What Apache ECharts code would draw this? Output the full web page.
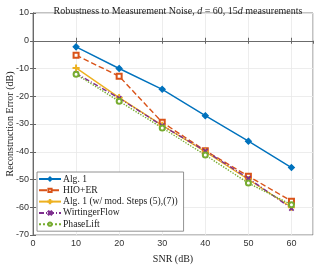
<!DOCTYPE html>
<html><head><meta charset="utf-8">
<script src="https://cdn.jsdelivr.net/npm/echarts@6/dist/echarts.min.js"></script>
<style>html,body{margin:0;padding:0;background:#fff}#c{width:318px;height:266px}</style>
</head><body><div id="c"></div>
<script>
const snr = [10, 20, 30, 40, 50, 60];
const alg1 = [-2.2, -10, -17.5, -27, -36.2, -45.7];
const hioer = [-5.2, -12.8, -29.4, -39.6, -48.8, -57.8];
const alg1mod = [-9.8, -20.5, -30.5, -40, -50, -60];
const wirtinger = [-11.8, -20.7, -30.6, -39.7, -49.6, -60.4];
const phaselift = [-12.1, -21.8, -31.4, -41.2, -51.3, -59.1];
const names = ['Alg. 1', 'HIO+ER', 'Alg. 1 (w/ mod. Steps (5),(7))', 'WirtingerFlow', 'PhaseLift'];

const serif = 'Liberation Serif';
const plus = 'path://M4.3,0L5.7,0L5.7,4.3L10,4.3L10,5.7L5.7,5.7L5.7,10L4.3,10L4.3,5.7L0,5.7L0,4.3L4.3,4.3Z';
const xmark = 'path://M1,0L5,4L9,0L10,1L6,5L10,9L9,10L5,6L1,10L0,9L4,5L0,1Z';
function mk(name, data, color, type, symbol, size) {
  return {
    name, type: 'line', data: snr.map((x, i) => [x, data[i]]),
    symbol, symbolSize: size, showSymbol: true,
    lineStyle: { color, width: 1.4, type },
    itemStyle: { color, borderColor: color, borderWidth: 1.1 },
    emphasis: { disabled: true }
  };
}
const chart = echarts.init(document.getElementById('c'));
const axisCommon = {
  axisLine: { show: true, lineStyle: { color: '#666', width: 0.8 } },
  axisTick: { show: true, inside: true, length: 3, lineStyle: { color: '#666' } },
};
chart.setOption({
  animation: false,
  title: {
    text: '{n|Robustness to Measurement Noise, }{i|d}{n| = 60, 15}{i|d}{n| measurements}',
    left: 173, textAlign: 'center', top: 1,
    textStyle: { fontWeight: 'normal', rich: {
      n: { fontFamily: serif, fontSize: 10, color: '#222', fontWeight: 'normal' },
      i: { fontFamily: serif, fontSize: 10, fontStyle: 'italic', color: '#222', fontWeight: 'normal' }
    } }
  },
  grid: { left: 33, right: 5, top: 13, bottom: 31, containLabel: false, outerBoundsMode: 'none',
    show: true, borderColor: '#666', borderWidth: 0.8 },
  legend: {
    orient: 'vertical', left: 37, top: 172, data: names,
    backgroundColor: '#fff', borderColor: '#777', borderWidth: 0.8,
    padding: [2, 6, 2, 1], itemGap: 1.3, itemWidth: 22, itemHeight: 4,
    textStyle: { fontFamily: serif, fontSize: 9.6, color: '#222', lineHeight: 9, padding: [0, 0, 0, -3] }
  },
  xAxis: [{
    type: 'value', min: 0, max: 65, interval: 10,
    name: 'SNR (dB)', nameLocation: 'middle', nameGap: 19, nameMoveOverlap: false,
    nameTextStyle: { fontFamily: serif, fontSize: 10, color: '#222' },
    axisLabel: { fontFamily: 'Liberation Sans', fontSize: 9, color: '#333', margin: 4, showMaxLabel: false },
    splitLine: { show: true, lineStyle: { color: '#e8e8e8', width: 0.8 } },
    ...axisCommon
  }, {
    type: 'value', min: 0, max: 65, interval: 10, position: 'top',
    axisLabel: { show: false }, splitLine: { show: false }, ...axisCommon
  }],
  yAxis: [{
    type: 'value', min: -70, max: 10, interval: 10,
    name: 'Reconstruction Error (dB)', nameLocation: 'middle', nameGap: 18, nameMoveOverlap: false,
    nameTextStyle: { fontFamily: serif, fontSize: 10, color: '#222' },
    axisLabel: { fontFamily: 'Liberation Sans', fontSize: 9, color: '#333', margin: 4 },
    splitLine: { show: true, lineStyle: { color: '#e8e8e8', width: 0.8 } },
    ...axisCommon
  }, {
    type: 'value', min: -70, max: 10, interval: 10, position: 'right',
    axisLabel: { show: false }, splitLine: { show: false }, ...axisCommon
  }],
  series: [
    mk(names[0], alg1, '#0072BD', 'solid', 'diamond', 6),
    mk(names[1], hioer, '#D95319', 'dashed', 'emptyRect', 5),
    mk(names[2], alg1mod, '#EDB120', 'solid', plus, 6),
    mk(names[3], wirtinger, '#7E2F8E', [5, 2, 1, 2], xmark, 4),
    mk(names[4], phaselift, '#77AC30', 'dotted', 'emptyCircle', 5)
  ]
});
</script></body></html>
